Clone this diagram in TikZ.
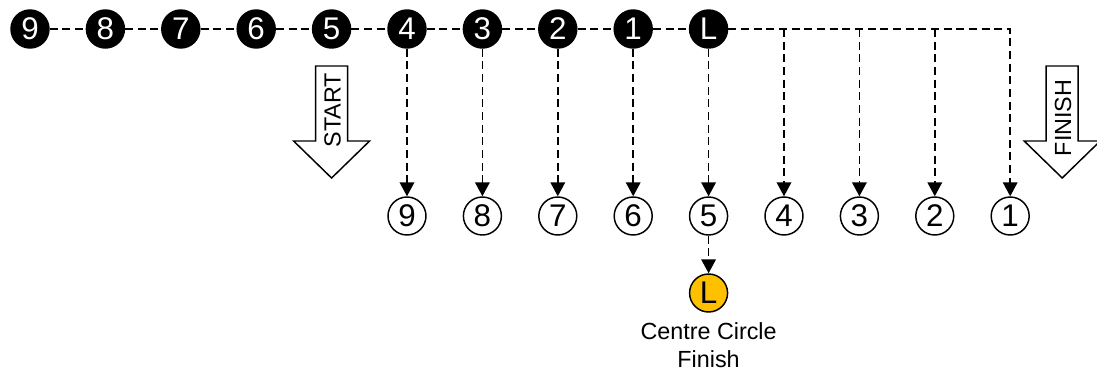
\documentclass[tikz,border=0pt]{standalone}
\usepackage{fontspec}
\setmainfont{Liberation Sans}
\usepackage{tikz}
\usetikzlibrary{arrows.meta}
\usetikzlibrary{matrix}
\usetikzlibrary{positioning}
\definecolor{gold}{RGB}{255,192,0}
\tikzstyle{ball}=[circle,draw,line width=1.1pt,minimum size=28.5pt,inner sep=0pt,anchor=center,font=\fontsize{23.5}{23.5}\selectfont]
\tikzstyle{kick}=[ball,fill=black,text=white]
\tikzstyle{spot}=[ball,fill=white]
\tikzstyle{centrespot}=[ball,fill=gold]
\tikzstyle{runhead}=[>/.tip={Triangle[length=10.5pt,width=11pt]}]
\tikzstyle{run}=[line width=1.1pt,dash pattern=on 6pt off 3.5pt]
\tikzstyle{runa}=[run,runhead,->]
\tikzstyle{blockarrow}=[line width=1.1pt,fill=white,line join=miter]
\tikzstyle{blocktext}=[rotate=90,inner sep=0pt,font=\fontsize{17.5}{21}\selectfont]
\tikzstyle{caption}=[align=center,inner sep=0pt,font=\fontsize{17.5}{21}\selectfont]

\begin{document}
\begin{tikzpicture}[x=0.75pt,y=-0.75pt]
	\matrix [matrix of nodes, column sep=26.95pt,
	         row 1/.style={nodes=kick}, row 2/.style={nodes=spot}, row 3/.style={nodes=centrespot}] (m) {
	  9 & 8 & 7 & 6 & 5 & 4 & 3 & 2 & 1 & L
	\\[110.65pt]
	    &   &   &   &   & 9 & 8 & 7 & 6 & 5 & 4 & 3 & 2 & 1
	\\[28.15pt]
	    &   &   &   &   &   &   &   &   & L
	\\ };
	\useasboundingbox ([shift={(-30,-29)}]m-1-1.center) rectangle ++(1097,372);
	% kick order along the line
	\draw[run] (m-1-1) -- (m-1-2) -- (m-1-3) -- (m-1-4) -- (m-1-5) -- (m-1-6) -- (m-1-7) -- (m-1-8) -- (m-1-9) -- (m-1-10);
	\coordinate (j4) at (m-1-10 -| m-2-11);
	\coordinate (j3) at (m-1-10 -| m-2-12);
	\coordinate (j2) at (m-1-10 -| m-2-13);
	\coordinate (j1) at (m-1-10 -| m-2-14);
	\draw[runa] (m-1-10) -- (j1) -- (m-2-14);
	\draw[runa] (j4) -- (m-2-11);
	\draw[runa] (j3) -- (m-2-12);
	\draw[runa] (j2) -- (m-2-13);
	\draw[runa] (m-1-6) -- (m-2-6);
	\draw[runa] (m-1-7) -- (m-2-7);
	\draw[runa] (m-1-8) -- (m-2-8);
	\draw[runa] (m-1-9) -- (m-2-9);
	\draw[runa] (m-1-10) -- (m-2-10);
	\draw[runa] (m-2-10) -- (m-3-10);
	\node[caption, below=7pt of m-3-10] (finishtxt) {Centre Circle\\Finish};
	% start and finish markers
	\draw[blockarrow] ([shift={(-16,37)}]m-1-5.center) -- ++(32,0) -- ++(0,75) -- ++(22,0) -- ++(-38,37) -- ++(-38,-37) -- ++(22,0) -- cycle;
	\node[blocktext] (start) at ([shift={(1,81)}]m-1-5.center) {START};
	\draw[blockarrow] ([shift={(36,-150)}]m-2-14.center) -- ++(32,0) -- ++(0,75) -- ++(22,0) -- ++(-38,37) -- ++(-38,-37) -- ++(22,0) -- cycle;
	\node[blocktext] (finish) at ([shift={(53,-98)}]m-2-14.center) {FINISH};
\end{tikzpicture}
\end{document}
